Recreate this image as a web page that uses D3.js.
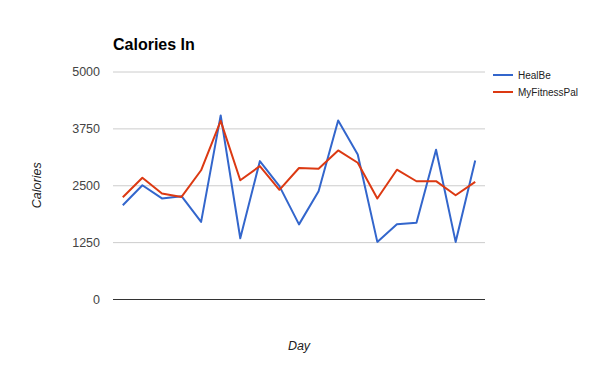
<!DOCTYPE html>
<html>
<head>
<meta charset="utf-8">
<script src="https://cdn.jsdelivr.net/npm/d3@7"></script>
<style>
  body { margin: 0; background: #fff; }
  svg { display: block; font-family: Arial, "Liberation Sans", sans-serif; }
</style>
</head>
<body>
<div id="chart"></div>
<script>
// Data
const days = d3.range(1, 20);
const healBe = [2060, 2500, 2210, 2260, 1695, 4035, 1335, 3030, 2480, 1640,
                2370, 3925, 3175, 1255, 1645, 1675, 3280, 1255, 3045];
const myFitnessPal = [2237, 2665, 2318, 2244, 2829, 3915, 2610, 2920, 2400, 2880,
                      2865, 3265, 2995, 2208, 2842, 2588, 2590, 2280, 2573];
const yTicks = [0, 1250, 2500, 3750, 5000];
const seriesNames = ['HealBe', 'MyFitnessPal'];
const colors = ['#3366cc', '#dc3912'];

const width = 596, height = 368;
const margin = { top: 71.5, right: 111, bottom: 69, left: 113 };
const innerWidth = width - margin.left - margin.right;
const innerHeight = height - margin.top - margin.bottom;

const svg = d3.select('#chart')
    .append('svg')
    .attr('width', width)
    .attr('height', height);

const g = svg.append('g')
    .attr('transform', `translate(${margin.left},${margin.top})`);

const xScale = d3.scaleBand()
    .domain(days)
    .range([0, innerWidth]);

const yScale = d3.scaleLinear()
    .domain([0, 5000])
    .range([innerHeight, 0]);

// Title
svg.append('text')
    .attr('x', margin.left)
    .attr('y', 50)
    .style('font-size', '16px')
    .style('font-weight', 'bold')
    .style('fill', '#000')
    .text('Calories In');

// Grid lines + tick labels
g.append('g')
    .attr('class', 'grid')
    .call(d3.axisLeft(yScale)
        .tickValues(yTicks)
        .tickSize(-innerWidth)
        .tickPadding(13)
        .tickFormat(d3.format('d'))
    )
    .call(ax => ax.select('.domain').remove())
    .call(ax => ax.selectAll('line')
        .attr('stroke', d => d === 0 ? '#333' : '#ccc')
        .attr('stroke-width', 1))
    .call(ax => ax.selectAll('text')
        .style('font-size', '12.5px')
        .style('font-family', 'Arial, "Liberation Sans", sans-serif')
        .attr('fill', '#444'));

// Axis titles
g.append('text')
    .attr('transform', 'rotate(-90)')
    .attr('x', -innerHeight / 2)
    .attr('y', -margin.left + 41)
    .style('text-anchor', 'middle')
    .style('font-size', '12.5px')
    .style('font-style', 'italic')
    .style('fill', '#222')
    .text('Calories');

svg.append('text')
    .attr('x', 299)
    .attr('y', 350)
    .style('text-anchor', 'middle')
    .style('font-size', '12.5px')
    .style('font-style', 'italic')
    .style('fill', '#222')
    .text('Day');

// Lines
const line = d3.line()
    .x((d, i) => xScale(days[i]) + xScale.bandwidth() / 2)
    .y(d => yScale(d));

[healBe, myFitnessPal].forEach((values, i) => {
    g.append('path')
        .datum(values)
        .attr('fill', 'none')
        .attr('stroke', colors[i])
        .attr('stroke-width', 2)
        .attr('stroke-linejoin', 'round')
        .attr('d', line);
});

// Legend
const legend = svg.append('g')
    .attr('transform', 'translate(493,75)');

seriesNames.forEach((name, i) => {
    const row = legend.append('g')
        .attr('transform', `translate(0,${i * 17})`);
    row.append('line')
        .attr('x1', 0).attr('x2', 20)
        .attr('stroke', colors[i])
        .attr('stroke-width', 2);
    row.append('text')
        .attr('x', 25)
        .attr('y', 3.5)
        .style('font-size', '10px')
        .style('fill', '#222')
        .text(name);
});
</script>
</body>
</html>
